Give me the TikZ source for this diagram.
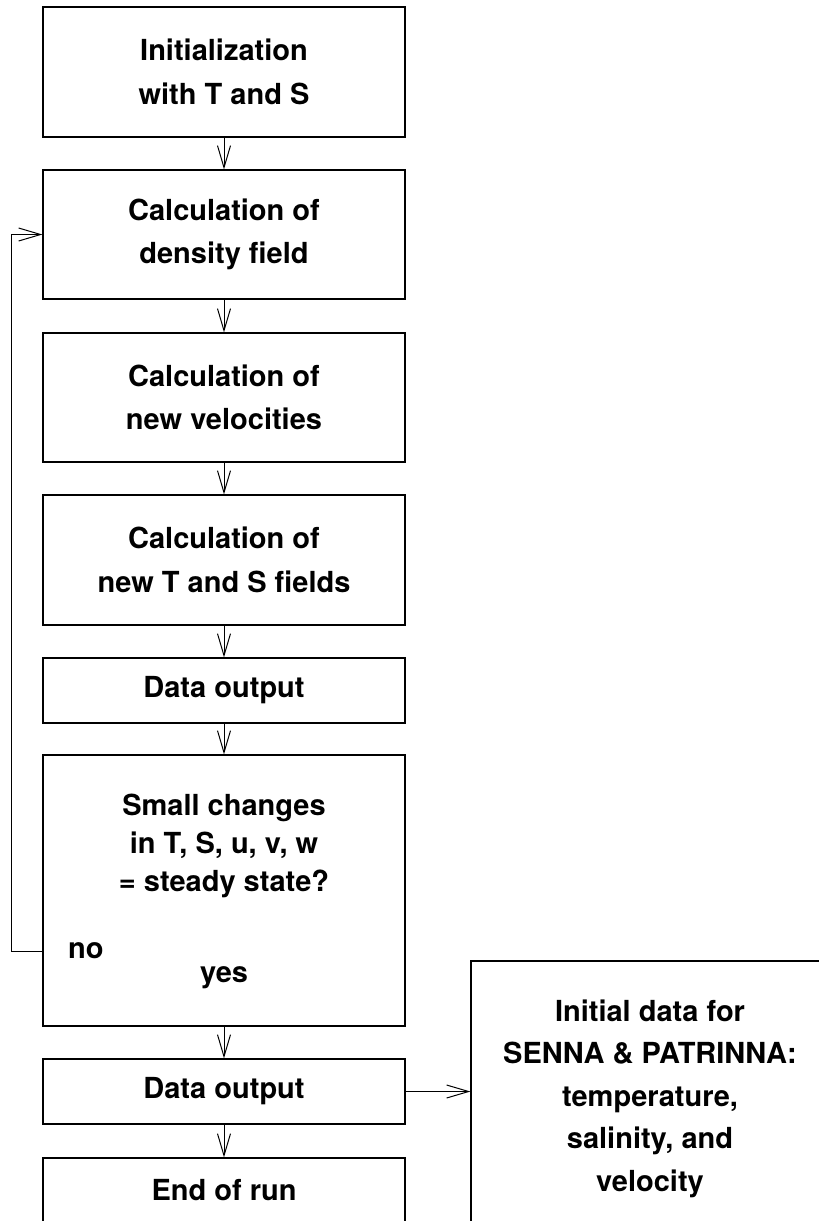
\documentclass[tikz,border=0pt]{standalone}
\usepackage{fontspec}
\setmainfont{TeX Gyre Heros}
\usetikzlibrary{arrows.meta}
\tikzset{
  box/.style={draw, line width=1.2pt, minimum width=362pt, align=center, inner sep=0pt,
    font=\fontsize{29}{43.5}\selectfont\bfseries},
  lbl/.style={align=center, inner sep=0pt, font=\fontsize{29}{43.5}\selectfont\bfseries},
  flow/.style={line width=1pt, -{Straight Barb[length=22pt,width=13pt]}}
}
\begin{document}
\begin{tikzpicture}[x=1pt, y=-1pt]
    \fill [white] (0, 0) rectangle (819, 1221);
    \useasboundingbox (0, 0) rectangle (819, 1221);
    \clip (0, 0) rectangle (819, 1221);
    % main column
    \node [box, minimum height=130pt] (init) at (224, 72) {Initialization\\with T and S};
    \node [box, minimum height=129pt] (dens) at (224, 234.5) {Calculation of\\density field};
    \node [box, minimum height=129pt] (vel) at (224, 397.5) {Calculation of\\new velocities};
    \node [box, minimum height=130pt] (ts) at (224, 560) {Calculation of\\new T and S fields};
    \node [box, minimum height=65pt] (out1) at (224, 690.5) {Data output};
    \node [box, minimum height=271pt] (chk) at (224, 890.5) {};
    \node [lbl, font=\fontsize{29}{38}\selectfont\bfseries] (ques) at (224, 846)
      {Small changes\\in T, S, u, v, w\\= steady state?};
    \node [lbl, anchor=west] (no) at (68, 951) {no};
    \node [lbl] (yes) at (224, 978) {yes};
    \node [box, minimum height=65pt] (out2) at (224, 1091.5) {Data output};
    \node [box, minimum height=65pt] (end) at (224, 1190.5) {End of run};
    % result box
    \node [box, minimum width=358pt, minimum height=269pt] (res) at (650, 1095.5) {};
    \node [lbl, font=\fontsize{29}{42.5}\selectfont\bfseries] (restext) at (650, 1098.5)
      {Initial data for\\SENNA \& PATRINNA:\\temperature,\\salinity, and\\velocity};
    % connectors
    \draw [flow] (init) -- (dens);
    \draw [flow] (dens) -- (vel);
    \draw [flow] (vel) -- (ts);
    \draw [flow] (ts) -- (out1);
    \draw [flow] (out1) -- (chk);
    \draw [flow] (chk) -- (out2);
    \draw [flow] (out2) -- (end);
    \draw [flow] (out2.east) -- (out2.east -| res.west);
    \draw [flow] (chk.west |- no.center) -- ++(-31, 0) |- (dens.west);
  \end{tikzpicture}
\end{document}
